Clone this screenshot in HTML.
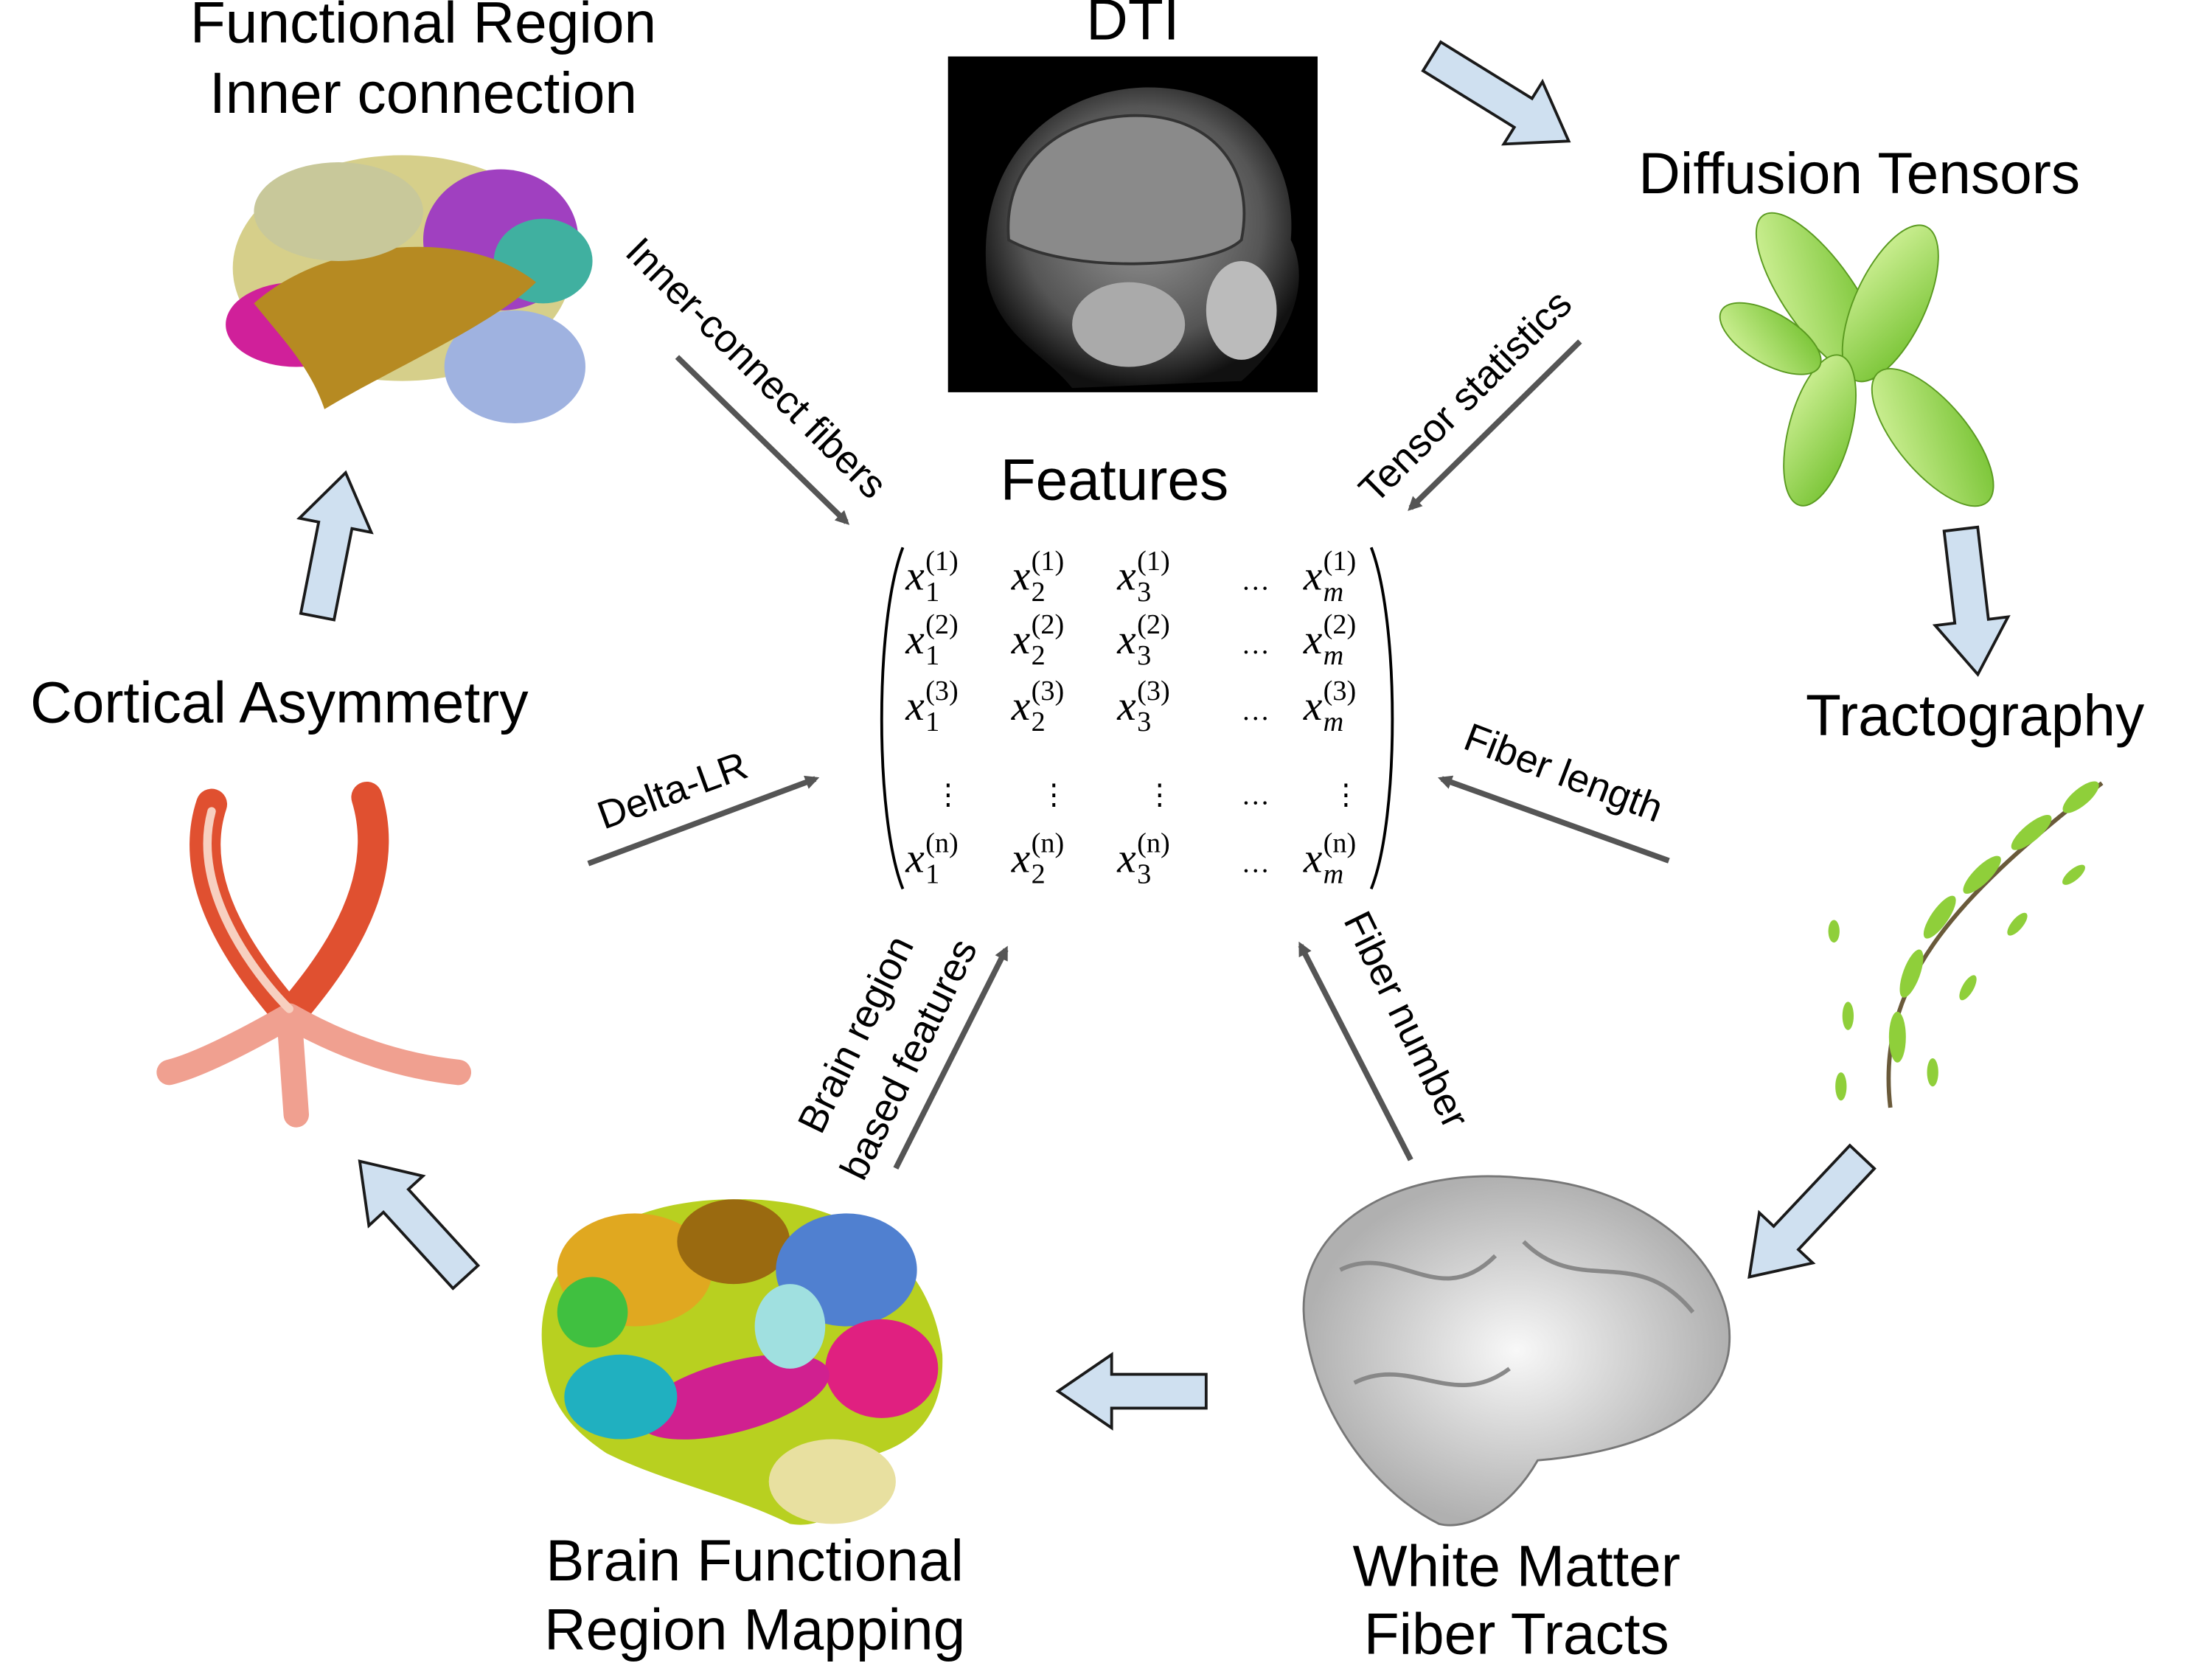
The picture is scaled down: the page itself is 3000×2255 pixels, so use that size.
<!DOCTYPE html>
<html><head><meta charset="utf-8"><style>
html,body{margin:0;padding:0;background:#fff;}
svg{display:block;}
text{font-family:"Liberation Sans",sans-serif;fill:#000;}
.t{font-size:41px;}
.m{font-family:"Liberation Serif",serif;font-style:italic;font-size:30px;}
.s{font-family:"Liberation Serif",serif;font-size:20px;}
.l{font-size:28px;}
</style></head><body>
<svg id="fig" width="3000" height="2255" viewBox="0 0 1568 1178.6" xmlns="http://www.w3.org/2000/svg">
<defs>
<radialGradient id="gw" cx="50%" cy="50%" r="50%"><stop offset="0" stop-color="#f8f8f8"/><stop offset="1" stop-color="#b0b0b0"/></radialGradient>
<radialGradient id="gm" cx="50%" cy="45%" r="55%"><stop offset="0" stop-color="#9a9a9a"/><stop offset="0.7" stop-color="#555"/><stop offset="1" stop-color="#111"/></radialGradient>
<linearGradient id="gg" x1="0" y1="0" x2="1" y2="1"><stop offset="0" stop-color="#d8f5a0"/><stop offset="1" stop-color="#6fbf2a"/></linearGradient>
<marker id="ah" markerWidth="10" markerHeight="10" refX="7" refY="5" orient="auto" markerUnits="userSpaceOnUse" viewBox="0 0 10 10"><path d="M0,0 L10,5 L0,10 z" fill="#555"/></marker>
</defs>

<text class="t" x="300" y="30" text-anchor="middle">Functional Region</text>
<text class="t" x="300" y="80" text-anchor="middle">Inner connection</text>
<text class="t" x="803" y="28" text-anchor="middle">DTI</text>
<text class="t" x="1318" y="137" text-anchor="middle">Diffusion Tensors</text>
<text class="t" x="1400" y="521" text-anchor="middle">Tractography</text>
<text class="t" x="1075" y="1124" text-anchor="middle">White Matter</text>
<text class="t" x="1075" y="1172" text-anchor="middle">Fiber Tracts</text>
<text class="t" x="535" y="1120" text-anchor="middle">Brain Functional</text>
<text class="t" x="535" y="1169" text-anchor="middle">Region Mapping</text>
<text class="t" x="198" y="512" text-anchor="middle">Cortical Asymmetry</text>
<text class="t" x="790" y="354" text-anchor="middle">Features</text>

<g>
<rect x="672" y="40" width="262" height="238" fill="#000"/>
<path d="M700,200 C690,120 740,65 810,62 C880,60 920,110 915,170 C930,200 915,240 880,270 L760,275 C740,250 710,240 700,200 z" fill="url(#gm)"/>
<path d="M715,170 C710,110 760,80 810,82 C860,84 890,120 880,170 C860,190 760,195 715,170 z" fill="#8a8a8a" stroke="#333" stroke-width="2"/>
<ellipse cx="800" cy="230" rx="40" ry="30" fill="#aaa"/>
<ellipse cx="880" cy="220" rx="25" ry="35" fill="#bbb"/>
</g>

<g>
<ellipse cx="285" cy="190" rx="120" ry="80" fill="#d6cf8a"/>
<ellipse cx="355" cy="170" rx="55" ry="50" fill="#a040c0"/>
<ellipse cx="385" cy="185" rx="35" ry="30" fill="#40b0a0"/>
<ellipse cx="210" cy="230" rx="50" ry="30" fill="#d0209a"/>
<ellipse cx="365" cy="260" rx="50" ry="40" fill="#9fb2e0"/>
<path d="M180,215 C230,170 330,160 380,200 C350,230 280,260 230,290 C220,260 200,240 180,215 z" fill="#b68a22"/>
<ellipse cx="240" cy="150" rx="60" ry="35" fill="#c8c89a"/>
</g>

<g fill="url(#gg)" stroke="#5a9a20" stroke-width="1">
<ellipse cx="1290" cy="210" rx="25" ry="70" transform="rotate(-35 1290 210)"/>
<ellipse cx="1340" cy="215" rx="25" ry="60" transform="rotate(25 1340 215)"/>
<ellipse cx="1370" cy="310" rx="25" ry="60" transform="rotate(-40 1370 310)"/>
<ellipse cx="1290" cy="305" rx="22" ry="55" transform="rotate(15 1290 305)"/>
<ellipse cx="1255" cy="240" rx="18" ry="40" transform="rotate(-60 1255 240)"/>
</g>

<g fill="#8fcf3a">
<path d="M1340,785 C1330,700 1380,640 1490,555" stroke="#6a5a3a" stroke-width="3" fill="none"/>
<ellipse cx="1345" cy="735" rx="6" ry="18"/><ellipse cx="1355" cy="690" rx="6" ry="18" transform="rotate(20 1355 690)"/>
<ellipse cx="1375" cy="650" rx="6" ry="18" transform="rotate(35 1375 650)"/><ellipse cx="1405" cy="620" rx="6" ry="18" transform="rotate(45 1405 620)"/>
<ellipse cx="1440" cy="590" rx="6" ry="18" transform="rotate(50 1440 590)"/><ellipse cx="1475" cy="565" rx="6" ry="16" transform="rotate(50 1475 565)"/>
<ellipse cx="1310" cy="720" rx="4" ry="10"/><ellipse cx="1305" cy="770" rx="4" ry="10"/><ellipse cx="1395" cy="700" rx="4" ry="10" transform="rotate(30 1395 700)"/>
<ellipse cx="1430" cy="655" rx="4" ry="10" transform="rotate(40 1430 655)"/><ellipse cx="1470" cy="620" rx="4" ry="10" transform="rotate(50 1470 620)"/>
<ellipse cx="1300" cy="660" rx="4" ry="8"/><ellipse cx="1370" cy="760" rx="4" ry="10"/>
</g>

<g>
<path d="M925,940 C915,870 990,825 1080,835 C1170,840 1235,900 1225,960 C1215,1010 1150,1030 1090,1035 C1070,1070 1040,1085 1020,1080 C980,1060 935,1010 925,940 z" fill="url(#gw)" stroke="#777" stroke-width="1.5"/>
<path d="M950,900 C990,880 1020,930 1060,890 M1080,880 C1120,920 1160,880 1200,930 M960,980 C1000,960 1030,1000 1070,970" stroke="#888" stroke-width="3" fill="none"/>
</g>

<g>
<path d="M385,960 C375,890 440,850 520,850 C600,848 660,890 668,960 C670,1010 640,1030 600,1035 C610,1060 590,1085 560,1080 C520,1060 470,1050 430,1030 C400,1010 388,990 385,960 z" fill="#b8d020"/>
<ellipse cx="450" cy="900" rx="55" ry="40" fill="#e0a820"/><ellipse cx="520" cy="880" rx="40" ry="30" fill="#9a6a10"/>
<ellipse cx="600" cy="900" rx="50" ry="40" fill="#5080d0"/><ellipse cx="625" cy="970" rx="40" ry="35" fill="#e02080"/>
<ellipse cx="520" cy="990" rx="70" ry="25" fill="#d02090" transform="rotate(-15 520 990)"/>
<ellipse cx="440" cy="990" rx="40" ry="30" fill="#20b0c0"/><ellipse cx="590" cy="1050" rx="45" ry="30" fill="#e8e0a0"/>
<ellipse cx="420" cy="930" rx="25" ry="25" fill="#40c040"/><ellipse cx="560" cy="940" rx="25" ry="30" fill="#a0e0e0"/>
</g>

<g stroke-linecap="round" fill="none">
<path d="M150,570 C130,630 180,690 205,720 C230,690 280,630 260,565" stroke="#e05030" stroke-width="22"/>
<path d="M205,720 C170,740 140,755 120,760 M205,720 C240,740 280,755 325,760 M205,720 L210,790" stroke="#f0a090" stroke-width="18"/>
<path d="M150,575 C135,630 180,690 205,715" stroke="#f7d0c0" stroke-width="6"/>
</g>

<g id="blocks" fill="#cfe0f0" stroke="#1a1a1a" stroke-width="2"></g>

<g stroke="#555" stroke-width="4" marker-end="url(#ah)">
<line x1="480" y1="253" x2="600" y2="370"/>
<line x1="1120" y1="242" x2="1000" y2="360"/>
<line x1="1183" y1="610" x2="1022" y2="552"/>
<line x1="1000" y1="822" x2="922" y2="670"/>
<line x1="635" y1="828" x2="713" y2="673"/>
<line x1="417" y1="612" x2="578" y2="552"/>
</g>
<text class="l" transform="translate(442,180) rotate(45)">Inner-connect fibers</text>
<text class="l" transform="translate(975,358) rotate(-45)">Tensor statistics</text>
<text class="l" transform="translate(1036,530) rotate(21)">Fiber length</text>
<text class="l" transform="translate(952,652) rotate(64)">Fiber number</text>
<text class="l" transform="translate(582,805) rotate(-64)">Brain region</text>
<text class="l" transform="translate(612,838) rotate(-64)">based features</text>
<text class="l" transform="translate(428,588) rotate(-20)">Delta-LR</text>

<g id="matrix">
<path d="M640,388 C620,440 620,580 640,630" stroke="#000" stroke-width="2" fill="none"/>
<path d="M972,388 C992,440 992,580 972,630" stroke="#000" stroke-width="2" fill="none"/>
</g>
</svg>
<script>
var NS='http://www.w3.org/2000/svg';
var blocks=document.getElementById('blocks');
var arrows=[[1015,40,1112,100],[1390,375,1402,478],[1320,820,1240,905],[855,986,750,986],[330,905,255,823],[225,437,245,335]];
arrows.forEach(function(a,i){
 var x1=a[0],y1=a[1],x2=a[2],y2=a[3];
 var dx=x2-x1,dy=y2-y1,L=Math.hypot(dx,dy),ux=dx/L,uy=dy/L,px=-uy,py=ux;
 var sw=12,hw=26,hl=38;
 var bx=x2-ux*hl,by=y2-uy*hl;
 var pts=[[x1+px*sw,y1+py*sw],[bx+px*sw,by+py*sw],[bx+px*hw,by+py*hw],[x2,y2],[bx-px*hw,by-py*hw],[bx-px*sw,by-py*sw],[x1-px*sw,y1-py*sw]];
 var p=document.createElementNS(NS,'polygon');
 p.setAttribute('points',pts.map(function(q){return q[0].toFixed(1)+','+q[1].toFixed(1);}).join(' '));
 
 
 blocks.appendChild(p);
});
var mat=document.getElementById('matrix');
var cols=[658,733,808,880,940];
var subs=['1','2','3','','m'];
var rows=[[418,'(1)'],[463,'(2)'],[510,'(3)'],[570,null],[618,'(n)']];
function tx(x,y,cls,s,italic){
 var t=document.createElementNS(NS,'text');
 t.setAttribute('x',x);t.setAttribute('y',y);t.setAttribute('class',cls);
 if(italic)t.setAttribute('font-style','italic');
 t.textContent=s;
 
 
 mat.appendChild(t);
}
rows.forEach(function(r){
 cols.forEach(function(c,j){
  if(r[1]===null){tx(c+(j==3?0:4),r[0],'s',j==3?'…':'⋮');return;}
  if(j==3){tx(c,r[0],'s','…');return;}
  tx(c-16,r[0],'m','x');
  tx(c-2,r[0]+8,'s',subs[j],subs[j]=='m');
  tx(c-2,r[0]-14,'s',r[1]);
 });
});
</script>
</body></html>
